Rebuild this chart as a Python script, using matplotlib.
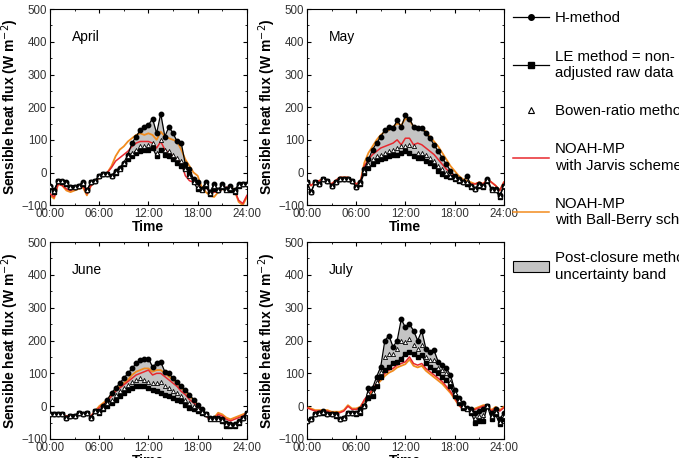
import numpy as np
import matplotlib
matplotlib.use('Agg')
import matplotlib.pyplot as plt
from matplotlib.lines import Line2D
from matplotlib.patches import Patch
from matplotlib.ticker import MultipleLocator

plt.rcParams['font.family'] = ['Liberation Sans', 'DejaVu Sans']

# half-hourly time axis, hours
hours = np.arange(0, 24.5, 0.5)
tick_labels = ['00:00', '06:00', '12:00', '18:00', '24:00']

# ---- April
apr_h = [-40, -55, -25, -25, -30, -45, -45, -40, -30, -55, -30, -25, -10, -5, -5, -10, 5, 15, 30, 55,
         90, 110, 130, 140, 145, 165, 120, 180, 110, 140, 120, 95, 90, 25, 10, -20, -30, -50, -30, -60,
         -35, -55, -35, -50, -40, -55, -35, -35, -35]
apr_le = [-45, -60, -25, -30, -35, -45, -45, -40, -35, -55, -30, -25, -10, -5, -5, -10, 0, 10, 25, 40,
          50, 60, 65, 70, 70, 75, 50, 70, 55, 50, 40, 30, 20, 10, -5, -30, -50, -55, -40, -65,
          -50, -55, -45, -55, -55, -60, -40, -35, -35]
apr_bw = [-42, -57, -25, -27, -32, -45, -45, -40, -32, -55, -30, -25, -10, -5, -5, -10, 2, 12, 30, 50,
          60, 70, 80, 82, 85, 90, 60, 100, 70, 65, 55, 45, 35, 10, -10, -28, -45, -52, -35, -62,
          -42, -55, -40, -52, -48, -57, -38, -35, -35]
apr_jv = [-65, -75, -35, -40, -50, -55, -50, -45, -40, -65, -40, -30, -15, -5, 0, 15, 35, 45, 55, 65,
          80, 90, 95, 95, 95, 90, 75, 95, 70, 60, 50, 40, 30, -10, -25, -30, -35, -50, -45, -60,
          -60, -60, -50, -45, -45, -55, -85, -95, -70]
apr_bb = [-70, -80, -35, -40, -55, -60, -55, -50, -45, -70, -40, -30, -15, -5, 0, 20, 50, 70, 80, 95,
          105, 115, 120, 115, 120, 115, 100, 125, 110, 105, 100, 95, 70, 40, 20, 0, -10, -45, -60, -70,
          -75, -60, -50, -55, -40, -55, -90, -100, -75]

# ---- May
may_h = [-30, -60, -30, -35, -20, -25, -40, -30, -20, -20, -20, -25, -45, -30, 10, 40, 70, 90, 110, 130,
         140, 135, 160, 140, 175, 165, 140, 135, 135, 120, 105, 85, 65, 45, 25, 5, -10, -20, -30, -10,
         -40, -50, -35, -40, -20, -50, -50, -70, -40]
may_le = [-30, -60, -30, -35, -20, -25, -40, -30, -20, -20, -20, -25, -45, -35, 0, 15, 25, 35, 40, 45,
          50, 55, 55, 60, 65, 60, 50, 45, 45, 35, 30, 20, 5, -5, -10, -15, -20, -25, -30, -35,
          -45, -50, -40, -45, -25, -55, -55, -75, -40]
may_bw = [-30, -60, -30, -35, -20, -25, -40, -30, -20, -20, -20, -25, -45, -32, 5, 25, 40, 50, 55, 60,
          65, 70, 75, 80, 80, 85, 80, 60, 60, 55, 45, 35, 20, 10, 0, -10, -18, -24, -30, -30,
          -42, -50, -38, -42, -22, -52, -52, -72, -40]
may_jv = [-25, -40, -30, -25, -20, -30, -35, -25, -15, -15, -15, -25, -35, -30, 20, 40, 55, 65, 75, 80,
          85, 90, 100, 85, 105, 105, 85, 90, 85, 75, 65, 55, 40, 25, 10, 0, -10, -20, -25, -30,
          -35, -35, -30, -35, -20, -30, -40, -55, -30]
may_bb = [-25, -40, -30, -25, -20, -30, -35, -25, -15, -15, -15, -25, -35, -30, 30, 60, 80, 100, 115, 125,
          130, 140, 150, 145, 165, 160, 140, 135, 135, 125, 110, 95, 80, 60, 40, 20, 5, -10, -20, -25,
          -30, -35, -30, -35, -20, -30, -40, -55, -30]

# ---- June
jun_h = [-25, -25, -25, -25, -35, -30, -30, -20, -25, -20, -35, -15, -15, 0, 20, 40, 55, 70, 85, 100,
         115, 130, 140, 145, 145, 120, 130, 135, 105, 100, 85, 75, 60, 50, 35, 20, 5, -10, -25, -35,
         -35, -35, -40, -50, -55, -55, -45, -35, -20]
jun_le = [-25, -25, -25, -25, -35, -30, -30, -20, -25, -20, -35, -15, -20, -10, 0, 10, 20, 30, 40, 50,
          55, 60, 62, 60, 55, 50, 45, 40, 35, 30, 25, 20, 15, 5, -5, -10, -15, -20, -25, -40,
          -40, -40, -45, -60, -60, -60, -50, -35, -20]
jun_bw = [-25, -25, -25, -25, -35, -30, -30, -20, -25, -20, -35, -15, -18, -5, 10, 20, 35, 45, 55, 65,
          75, 80, 85, 80, 75, 70, 70, 75, 60, 55, 45, 40, 30, 20, 10, 0, -10, -18, -25, -38,
          -38, -38, -42, -55, -58, -58, -48, -35, -20]
jun_jv = [-25, -25, -25, -30, -30, -30, -30, -25, -25, -25, -30, -15, -5, 5, 15, 30, 45, 55, 65, 75,
          85, 95, 100, 105, 110, 95, 100, 100, 90, 80, 70, 60, 45, 35, 20, 10, 0, -15, -30, -40,
          -40, -25, -30, -40, -45, -40, -35, -30, -20]
jun_bb = [-25, -25, -25, -30, -30, -30, -30, -25, -25, -25, -30, -15, 0, 10, 20, 35, 50, 60, 70, 80,
          95, 105, 110, 115, 115, 105, 110, 110, 100, 90, 80, 70, 55, 45, 30, 20, 5, -10, -25, -35,
          -35, -20, -25, -35, -40, -35, -30, -25, -20]

# ---- July
jul_h = [-45, -40, -25, -20, -15, -25, -25, -25, -40, -35, -20, -20, -20, -10, 0, 55, 55, 90, 120, 200,
         215, 180, 200, 265, 240, 250, 230, 200, 230, 175, 165, 170, 135, 125, 115, 95, 50, 25, 10, -5,
         -10, -20, -15, -10, 0, -20, -10, -40, -20]
jul_le = [-45, -40, -25, -20, -20, -25, -25, -30, -40, -35, -20, -20, -25, -20, 0, 25, 30, 60, 90, 110,
          120, 130, 135, 145, 160, 165, 160, 150, 155, 130, 120, 110, 100, 90, 80, 60, 30, 10, -5, -10,
          -20, -50, -45, -45, 0, -40, -25, -55, -40]
jul_bw = [-45, -40, -25, -20, -18, -25, -25, -28, -40, -35, -20, -20, -22, -15, 0, 40, 42, 75, 105, 150,
          160, 160, 175, 200, 195, 205, 185, 175, 185, 150, 140, 140, 115, 110, 100, 75, 40, 18, 2, -8,
          -15, -35, -30, -28, 0, -30, -18, -48, -30]
jul_jv = [-5, -10, -15, -15, -15, -15, -20, -20, -20, -15, 0, -10, -10, -5, 20, 35, 50, 70, 85, 100,
          110, 115, 125, 130, 135, 150, 130, 125, 130, 115, 105, 95, 85, 75, 60, 45, 25, 5, -10, -15,
          -15, -10, -5, 0, 0, -15, -5, -15, -5]
jul_bb = [-2, -7, -12, -12, -12, -12, -17, -17, -17, -12, 3, -7, -7, -2, 17, 30, 45, 65, 78, 92,
          102, 108, 118, 123, 128, 142, 123, 118, 123, 108, 98, 88, 78, 68, 54, 40, 22, 3, -8, -12,
          -12, -7, -2, 3, 3, -12, -2, -12, -2]

months = ['April', 'May', 'June', 'July']
h_all = [apr_h, may_h, jun_h, jul_h]
le_all = [apr_le, may_le, jun_le, jul_le]
bw_all = [apr_bw, may_bw, jun_bw, jul_bw]
jv_all = [apr_jv, may_jv, jun_jv, jul_jv]
bb_all = [apr_bb, may_bb, jun_bb, jul_bb]

red = '#e8282e'
orange = '#f28c1e'
band = '#c4c4c4'

fig = plt.figure(figsize=(6.79, 4.58), dpi=100)
# axes rectangles [left, bottom, width, height]
rects = [[0.0736, 0.552, 0.290, 0.428],
         [0.452, 0.552, 0.290, 0.428],
         [0.0736, 0.0415, 0.290, 0.430],
         [0.452, 0.0415, 0.290, 0.430]]

for i in range(4):
    ax = fig.add_axes(rects[i])
    h = np.array(h_all[i])
    le = np.array(le_all[i])
    ax.fill_between(hours, le, h, color=band, linewidth=0, zorder=1)
    ax.plot(hours, bb_all[i], color=orange, lw=1.3, zorder=2)
    ax.plot(hours, jv_all[i], color=red, lw=1.1, zorder=3)
    ax.plot(hours, h, color='black', lw=0.9, marker='o', ms=3.2, zorder=4)
    ax.plot(hours, le, color='black', lw=0.9, marker='s', ms=3.2, zorder=4)
    ax.plot(hours, bw_all[i], ls='none', marker='^', ms=3, mfc='white', mec='black',
            mew=0.6, zorder=5)

    ax.set_xlim(0, 24)
    ax.set_ylim(-100, 500)
    ax.set_xticks([0, 6, 12, 18, 24])
    ax.set_xticklabels(tick_labels)
    ax.xaxis.set_minor_locator(MultipleLocator(3))
    ax.yaxis.set_major_locator(MultipleLocator(100))
    ax.yaxis.set_minor_locator(MultipleLocator(50))
    ax.tick_params(which='both', direction='in', top=True, right=True, labelsize=8.3,
                   labelcolor='#333333', pad=2)
    ax.tick_params(which='major', length=3)
    ax.tick_params(which='minor', length=1.5)
    for s in ax.spines.values():
        s.set_linewidth(0.8)
    ax.set_ylabel('Sensible heat flux (W m$^{-2}$)', fontsize=10, fontweight='bold', labelpad=0)
    ax.set_xlabel('Time', fontsize=10, fontweight='bold', labelpad=0)
    ax.text(0.11, 0.84, months[i], transform=ax.transAxes, fontsize=10)

handles = [
    Line2D([], [], color='black', lw=0.9, marker='o', ms=4),
    Line2D([], [], color='black', lw=0.9, marker='s', ms=4),
    Line2D([], [], ls='none', marker='^', ms=5, mfc='white', mec='black', mew=0.8),
    Line2D([], [], color=red, lw=1.1),
    Line2D([], [], color=orange, lw=1.1),
    Patch(facecolor=band, edgecolor='black', linewidth=0.8),
]
labels = ['H-method',
          'LE method = non-\nadjusted raw data',
          'Bowen-ratio method',
          'NOAH-MP\nwith Jarvis scheme',
          'NOAH-MP\nwith Ball-Berry scheme',
          'Post-closure method\nuncertainty band']
leg = fig.legend(handles, labels, loc='upper left', bbox_to_anchor=(0.735, 1.005), frameon=False,
                 fontsize=10.8, labelspacing=1.62, handlelength=2.4, handletextpad=0.4)
for t in leg.get_texts():
    t.set_linespacing(1.2)

fig.savefig('out.png', dpi=100)
